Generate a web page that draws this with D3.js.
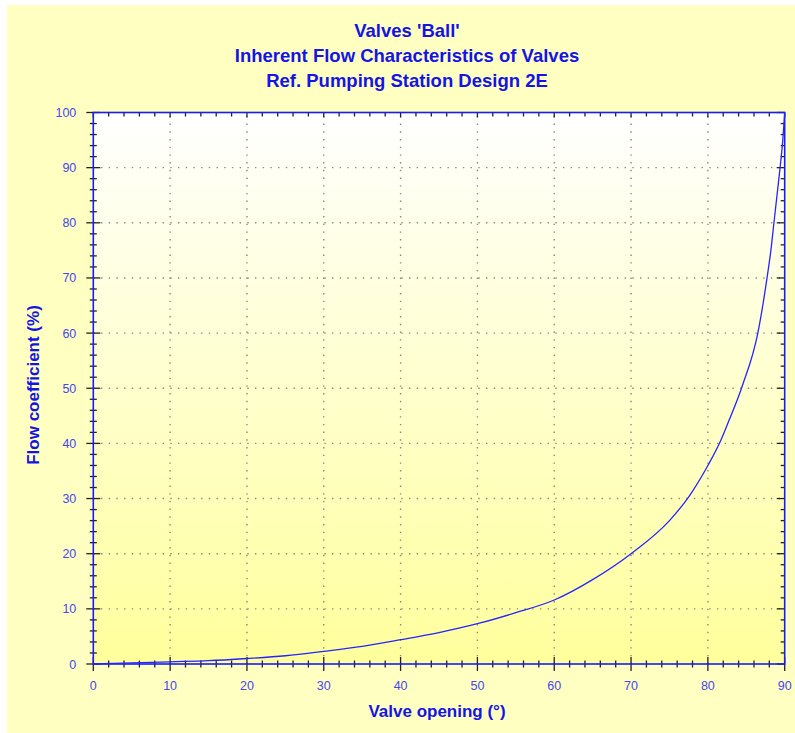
<!DOCTYPE html>
<html>

<head>
  <meta charset='utf-8'>
  <style>
    body { margin: 0; background: #fff; }
    text { font-family: Arial, "Liberation Sans", sans-serif; }
  </style>
  <script src="https://cdn.jsdelivr.net/npm/d3@7"></script>
</head>

<body>
  <script>
    // curve
    const opening = [0, 5, 10, 15, 20, 25, 30, 35, 40, 45, 50, 55, 60, 65, 70, 75, 77.6, 80, 81.6, 82.5, 84.5, 86.5, 87.7, 88.2, 88.6, 89.0, 89.4, 89.75, 90];
    const flow = [0, 0.2, 0.4, 0.6, 1.0, 1.5, 2.3, 3.2, 4.4, 5.7, 7.3, 9.3, 11.6, 15.3, 20, 26, 30.5, 36, 40.3, 43.3, 50.5, 60, 70, 75, 80, 85, 90, 95, 100];
    const xTicks = [0, 10, 20, 30, 40, 50, 60, 70, 80, 90];
    const yTicks = [0, 10, 20, 30, 40, 50, 60, 70, 80, 90, 100];
    const titleLines = ["Valves 'Ball'", "Inherent Flow Characteristics of Valves", "Ref. Pumping Station Design 2E"];

    const [width, height] = [795, 733];
    const m = { left: 93.3, right: 784.7, top: 112.5, bottom: 664 };

    const svg = d3.select("body").append("svg")
      .attr("width", width).attr("height", height);

    const defs = svg.append("defs");
    const grad = defs.append("linearGradient").attr("id", "plotbg")
      .attr("x1", 0).attr("y1", 0).attr("x2", 0).attr("y2", 1);
    grad.append("stop").attr("offset", "0%").attr("stop-color", "#ffffff");
    grad.append("stop").attr("offset", "100%").attr("stop-color", "#ffff9c");

    // outer panel
    svg.append("rect").attr("x", 7).attr("y", 5).attr("width", 788).attr("height", 728)
      .attr("fill", "#ffffc2");

    const x = d3.scaleLinear().domain([0, 90]).range([m.left, m.right]);
    const y = d3.scaleLinear().domain([0, 100]).range([m.bottom, m.top]);

    svg.append("rect")
      .attr("x", m.left).attr("y", m.top)
      .attr("width", m.right - m.left).attr("height", m.bottom - m.top)
      .attr("fill", "url(#plotbg)");

    // dotted grid
    const grid = svg.append("g").attr("stroke", "#8a8a7a").attr("stroke-width", 1.4)
      .attr("stroke-dasharray", "1.4,6.3");
    grid.selectAll(".gx").data(xTicks.slice(1, -1)).join("line")
      .attr("x1", d => x(d)).attr("x2", d => x(d)).attr("y1", m.bottom).attr("y2", m.top);
    grid.selectAll(".gy").data(yTicks.slice(1, -1)).join("line")
      .attr("y1", d => y(d)).attr("y2", d => y(d)).attr("x1", m.left).attr("x2", m.right);

    const minorX = d3.range(0, 90.01, 2).filter(v => v % 10 !== 0);
    const minorY = d3.range(0, 100.01, 2).filter(v => v % 10 !== 0);

    // ticks
    const ticks = svg.append("g").attr("stroke", "#222").attr("stroke-width", 1.3);
    // bottom
    ticks.selectAll(".bM").data(xTicks).join("line")
      .attr("x1", d => x(d)).attr("x2", d => x(d)).attr("y1", m.bottom - 7).attr("y2", m.bottom + 7);
    ticks.selectAll(".bm").data(minorX).join("line")
      .attr("x1", d => x(d)).attr("x2", d => x(d)).attr("y1", m.bottom - 3.5).attr("y2", m.bottom + 3.5);
    // top
    ticks.selectAll(".tM").data(xTicks).join("line")
      .attr("x1", d => x(d)).attr("x2", d => x(d)).attr("y1", m.top).attr("y2", m.top + 5);
    ticks.selectAll(".tm").data(minorX).join("line")
      .attr("x1", d => x(d)).attr("x2", d => x(d)).attr("y1", m.top).attr("y2", m.top + 4);
    // left
    ticks.selectAll(".lM").data(yTicks).join("line")
      .attr("y1", d => y(d)).attr("y2", d => y(d)).attr("x1", m.left - 7).attr("x2", m.left + 7);
    ticks.selectAll(".lm").data(minorY).join("line")
      .attr("y1", d => y(d)).attr("y2", d => y(d)).attr("x1", m.left - 3.5).attr("x2", m.left + 3.5);
    // right
    ticks.selectAll(".rM").data(yTicks).join("line")
      .attr("y1", d => y(d)).attr("y2", d => y(d)).attr("x1", m.right - 8).attr("x2", m.right);
    ticks.selectAll(".rm").data(minorY).join("line")
      .attr("y1", d => y(d)).attr("y2", d => y(d)).attr("x1", m.right - 4).attr("x2", m.right);

    // frame
    svg.append("rect")
      .attr("x", m.left).attr("y", m.top)
      .attr("width", m.right - m.left).attr("height", m.bottom - m.top)
      .attr("fill", "none").attr("stroke", "#1a1aff").attr("stroke-width", 1.6);

    // curve
    const pts = opening.map((o, i) => [o, flow[i]]);
    svg.append("path").datum(pts)
      .attr("fill", "none").attr("stroke", "#2424ff").attr("stroke-width", 1.3)
      .attr("d", d3.line().x(d => x(d[0])).y(d => y(d[1])).curve(d3.curveMonotoneX));

    // tick labels
    svg.append("g").selectAll("text").data(xTicks).join("text")
      .attr("x", d => x(d)).attr("y", m.bottom + 26)
      .attr("text-anchor", "middle").attr("font-size", 12.5).attr("fill", "#4646f0")
      .text(d => d);
    svg.append("g").selectAll("text").data(yTicks).join("text")
      .attr("x", m.left - 17).attr("y", d => y(d) + 4.5)
      .attr("text-anchor", "end").attr("font-size", 12.5).attr("fill", "#4646f0")
      .text(d => d);

    // titles
    svg.append("g").selectAll("text").data(titleLines).join("text")
      .attr("x", 407).attr("y", (d, i) => 37 + i * 25)
      .attr("text-anchor", "middle").attr("font-size", 18.5).attr("font-weight", "bold")
      .attr("fill", "#1414e6").text(d => d);

    svg.append("text").attr("x", 437).attr("y", 717)
      .attr("text-anchor", "middle").attr("font-size", 17).attr("font-weight", "bold")
      .attr("fill", "#1414e6").text("Valve opening (°)");

    svg.append("text").attr("transform", "translate(39,385) rotate(-90)")
      .attr("text-anchor", "middle").attr("font-size", 17).attr("font-weight", "bold")
      .attr("fill", "#1414e6").text("Flow coefficient (%)");
  </script>
</body>

</html>
